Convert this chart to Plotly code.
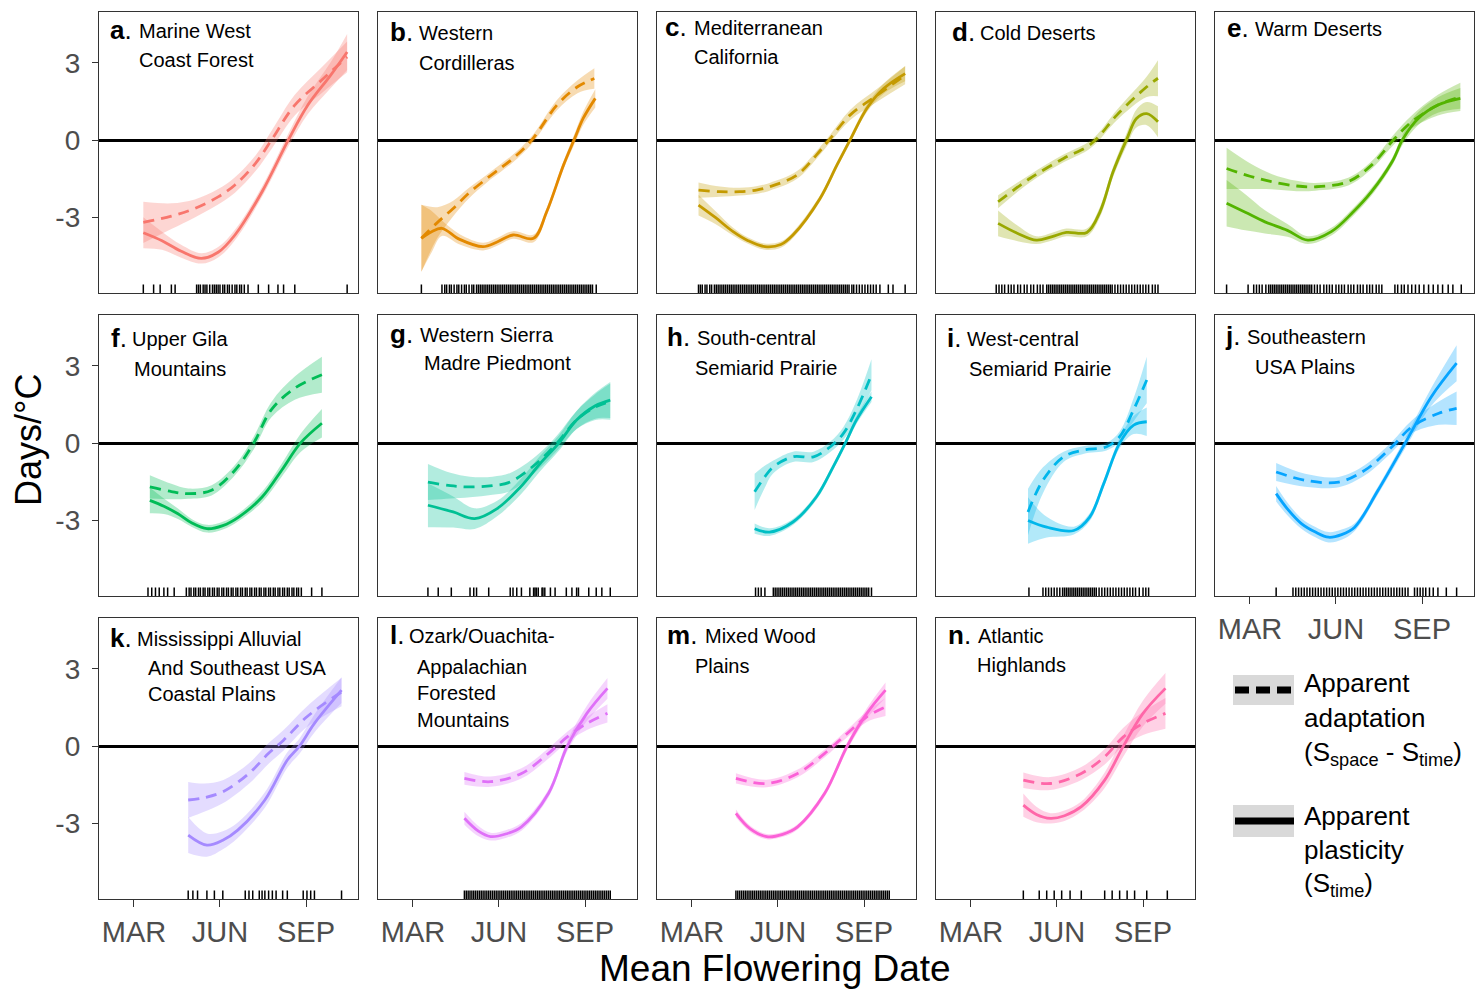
import plotly.graph_objects as go

# ---------------- data (x = day of year of mean flowering date, y = days/°C) ----------------
LETTERS = ["a", "b", "c", "d", "e", "f", "g", "h", "i", "j", "k", "l", "m", "n"]
TITLES = [
    ["Marine West", "Coast Forest"],
    ["Western", "Cordilleras"],
    ["Mediterranean", "California"],
    ["Cold Deserts"],
    ["Warm Deserts"],
    ["Upper Gila", "Mountains"],
    ["Western Sierra", "Madre Piedmont"],
    ["South-central", "Semiarid Prairie"],
    ["West-central", "Semiarid Prairie"],
    ["Southeastern", "USA Plains"],
    ["Mississippi Alluvial", "And Southeast USA", "Coastal Plains"],
    ["Ozark/Ouachita-", "Appalachian", "Forested", "Mountains"],
    ["Mixed Wood", "Plains"],
    ["Atlantic", "Highlands"],
]
COLORS = ["#F8766D", "#E38900", "#C49A00", "#99A800", "#53B400", "#00BC56", "#00C094",
          "#00BFC4", "#00B6EB", "#06A4FF", "#A58AFF", "#DF70F8", "#FB61D7", "#FF66A8"]

MONTH_TICKS = [60, 152, 244]
MONTH_LABELS = ["MAR", "JUN", "SEP"]
Y_TICKS = [-3, 0, 3]

# a. Marine West Coast Forest
A_PL_X = [70, 90, 110, 132, 150, 168, 197, 225, 246, 270, 288]
A_PL_Y = [-3.59, -3.9, -4.3, -4.59, -4.35, -3.68, -2.0, 0.0, 1.36, 2.5, 3.42]
A_PL_SE = [0.6, 0.35, 0.25, 0.2, 0.2, 0.2, 0.2, 0.25, 0.35, 0.5, 0.7]
A_AD_X = [70, 100, 125, 150, 168, 190, 207, 232, 260, 288]
A_AD_Y = [-3.19, -2.95, -2.65, -2.2, -1.74, -0.9, 0.0, 1.36, 2.3, 3.23]
A_AD_SE = [0.8, 0.5, 0.35, 0.3, 0.3, 0.3, 0.35, 0.4, 0.5, 0.6]
A_RUG = [70, 81, 88, 100, 104, 127, 129, 131, 134, 136, 138, 141, 144, 146, 148, 150, 152, 155,
         157, 160, 162, 165, 168, 170, 173, 175, 178, 182, 193, 204, 214, 220, 232, 288]

# b. Western Cordilleras
B_PL_X = [69, 80, 91, 110, 135, 150, 167, 189, 203, 221, 233, 242, 255]
B_PL_Y = [-3.81, -3.55, -3.42, -3.85, -4.13, -3.95, -3.68, -3.81, -2.78, -0.97, 0.07, 0.84, 1.62]
B_PL_SE = [1.3, 0.8, 0.3, 0.2, 0.15, 0.15, 0.15, 0.15, 0.15, 0.15, 0.2, 0.25, 0.35]
B_AD_X = [69, 86, 103, 120, 139, 155, 167, 187, 214, 236, 254]
B_AD_Y = [-3.81, -3.2, -2.65, -2.05, -1.49, -1.05, -0.71, 0.0, 1.36, 2.07, 2.39]
B_AD_SE = [1.3, 0.6, 0.3, 0.2, 0.15, 0.15, 0.15, 0.15, 0.2, 0.25, 0.4]
B_RUG = [69, 91, 94, 96, 99, 101, 104, 107, 109, 112, 115, 117, 120, 123, 125, 128, 130, 132, 134,
         136, 138, 140, 142, 144, 146, 148, 150, 152, 154, 156, 158, 160, 162, 164, 166, 168, 170,
         172, 174, 176, 178, 180, 182, 184, 186, 188, 190, 192, 194, 196, 198, 200, 202, 204, 206,
         208, 210, 212, 214, 216, 218, 220, 222, 224, 226, 228, 230, 232, 234, 236, 238, 240, 242,
         244, 246, 248, 250, 252, 256]

# c. Mediterranean California
C_PL_X = [67, 85, 104, 120, 138, 155, 168, 197, 215, 229, 247, 265, 288]
C_PL_Y = [-2.52, -3.0, -3.55, -3.9, -4.13, -4.05, -3.68, -2.26, -0.97, 0.0, 1.23, 2.0, 2.58]
C_PL_SE = [0.4, 0.25, 0.15, 0.12, 0.12, 0.12, 0.12, 0.12, 0.12, 0.12, 0.15, 0.2, 0.3]
C_AD_X = [67, 90, 111, 130, 143, 172, 193, 208, 229, 258, 288]
C_AD_Y = [-1.94, -2.0, -2.0, -1.93, -1.81, -1.36, -0.58, 0.07, 0.97, 1.74, 2.52]
C_AD_SE = [0.3, 0.2, 0.15, 0.15, 0.15, 0.15, 0.15, 0.15, 0.2, 0.25, 0.35]
C_RUG = [67, 69, 71, 74, 76, 79, 81, 84, 86, 88, 90, 92, 94, 96, 98, 100, 102, 104, 106, 108, 110,
         112, 114, 116, 118, 120, 122, 124, 126, 128, 130, 132, 134, 136, 138, 140, 142, 144, 146,
         148, 150, 152, 154, 156, 158, 160, 162, 164, 166, 168, 170, 172, 174, 176, 178, 180, 182,
         184, 186, 188, 190, 192, 194, 196, 198, 200, 202, 204, 206, 208, 210, 212, 214, 216, 218,
         220, 222, 224, 226, 228, 231, 233, 236, 239, 242, 245, 248, 251, 254, 257, 261, 270, 275, 288]

# d. Cold Deserts
D_PL_X = [89, 110, 130, 146, 162, 184, 198, 212, 227, 237, 248, 260]
D_PL_Y = [-3.23, -3.62, -3.88, -3.75, -3.58, -3.58, -2.78, -1.23, 0.07, 0.84, 1.03, 0.71]
D_PL_SE = [0.5, 0.3, 0.15, 0.15, 0.15, 0.15, 0.2, 0.2, 0.25, 0.35, 0.45, 0.6]
D_AD_X = [89, 123, 159, 184, 195, 216, 248, 260]
D_AD_Y = [-2.39, -1.49, -0.71, -0.26, 0.07, 0.97, 2.07, 2.4]
D_AD_SE = [0.25, 0.15, 0.15, 0.15, 0.15, 0.2, 0.4, 0.7]
D_RUG = [87, 90, 93, 96, 100, 103, 106, 110, 113, 117, 120, 124, 127, 131, 134, 137, 141, 143, 145,
         147, 149, 151, 153, 155, 157, 159, 161, 163, 165, 167, 169, 171, 173, 175, 177, 179, 181,
         183, 185, 187, 189, 191, 193, 195, 197, 199, 201, 203, 205, 207, 209, 211, 214, 217, 220,
         223, 226, 229, 232, 235, 238, 241, 244, 247, 250, 254, 257, 260]

# e. Warm Deserts
E_PL_X = [35, 55, 76, 100, 122, 147, 170, 190, 212, 224, 240, 261, 285]
E_PL_Y = [-2.45, -2.8, -3.17, -3.5, -3.88, -3.55, -2.8, -2.0, -0.84, 0.07, 0.84, 1.36, 1.62]
E_PL_SE = [0.9, 0.7, 0.45, 0.25, 0.15, 0.15, 0.15, 0.15, 0.15, 0.2, 0.25, 0.3, 0.4]
E_AD_X = [35, 60, 83, 110, 130, 165, 190, 215, 233, 261, 285]
E_AD_Y = [-1.1, -1.4, -1.61, -1.78, -1.81, -1.61, -0.97, 0.07, 0.71, 1.36, 1.68]
E_AD_SE = [0.8, 0.5, 0.3, 0.2, 0.15, 0.15, 0.15, 0.2, 0.25, 0.4, 0.55]
E_RUG = [35, 58, 64, 67, 70, 73, 77, 80, 82, 84, 86, 88, 90, 92, 94, 96, 98, 100, 102, 104, 106,
         108, 110, 112, 114, 116, 118, 120, 122, 124, 126, 129, 132, 135, 139, 142, 145, 148, 152,
         155, 158, 161, 165, 168, 171, 175, 178, 181, 185, 188, 191, 195, 198, 201, 215, 218, 222,
         225, 229, 233, 237, 241, 246, 251, 256, 261, 266, 272, 277, 286]

# f. Upper Gila Mountains
F_PL_X = [77, 92, 107, 122, 138, 155, 172, 197, 218, 238, 261]
F_PL_Y = [-2.22, -2.45, -2.74, -3.1, -3.32, -3.2, -2.87, -2.09, -1.05, 0.0, 0.77]
F_PL_SE = [0.5, 0.3, 0.2, 0.15, 0.15, 0.15, 0.15, 0.2, 0.25, 0.35, 0.55]
F_AD_X = [77, 100, 118, 143, 168, 188, 207, 232, 261]
F_AD_Y = [-1.7, -1.88, -1.96, -1.83, -1.05, 0.0, 1.3, 2.13, 2.65]
F_AD_SE = [0.45, 0.3, 0.2, 0.2, 0.2, 0.25, 0.3, 0.45, 0.7]
F_RUG = [75, 79, 83, 87, 92, 96, 103, 116, 119, 121, 124, 126, 129, 131, 134, 136, 139, 141, 144,
         146, 149, 151, 154, 156, 159, 161, 164, 166, 169, 171, 174, 176, 179, 181, 184, 186, 189,
         191, 194, 196, 199, 201, 204, 206, 209, 211, 214, 216, 219, 221, 224, 226, 229, 231, 234,
         236, 239, 250, 261]

# g. Western Sierra Madre Piedmont
G_PL_X = [76, 103, 126, 150, 175, 196, 216, 235, 255, 271]
G_PL_Y = [-2.41, -2.67, -2.93, -2.54, -1.7, -0.79, 0.0, 0.9, 1.45, 1.67]
G_PL_SE = [0.85, 0.6, 0.4, 0.3, 0.3, 0.3, 0.3, 0.35, 0.5, 0.7]
G_AD_X = [76, 100, 121, 145, 164, 192, 214, 235, 255, 271]
G_AD_Y = [-1.51, -1.65, -1.7, -1.65, -1.51, -0.79, 0.0, 0.9, 1.4, 1.61]
G_AD_SE = [0.7, 0.5, 0.4, 0.35, 0.35, 0.3, 0.3, 0.35, 0.5, 0.7]
G_RUG = [76, 87, 101, 121, 125, 128, 141, 164, 167, 171, 176, 185, 189, 190.5, 192, 194, 198, 199,
         201, 207, 212, 224, 230, 235, 237, 248, 256, 262, 271]

# h. South-central Semiarid Prairie
H_PL_X = [127, 143, 168, 193, 211, 224, 236, 252]
H_PL_Y = [-3.32, -3.45, -3.06, -2.09, -0.92, 0.0, 0.9, 1.8]
H_PL_SE = [0.2, 0.15, 0.12, 0.12, 0.12, 0.12, 0.15, 0.2]
H_AD_X = [127, 137, 147, 168, 190, 208, 222, 236, 252]
H_AD_Y = [-1.89, -1.35, -0.92, -0.53, -0.53, -0.14, 0.38, 1.3, 2.65]
H_AD_SE = [0.7, 0.45, 0.25, 0.2, 0.2, 0.2, 0.25, 0.35, 0.6]
H_RUG = [128, 131, 134, 138, 147, 149, 151, 153, 155, 157, 159, 161, 163, 165, 167, 169, 171, 173,
         175, 177, 179, 181, 183, 185, 187, 189, 191, 193, 195, 197, 199, 201, 203, 205, 207, 209,
         211, 213, 215, 217, 219, 221, 223, 225, 227, 229, 231, 233, 235, 237, 239, 241, 243, 245,
         247, 249, 252]

# i. West-central Semiarid Prairie
I_PL_X = [121, 141, 170, 187, 202, 219, 234, 248]
I_PL_Y = [-3.0, -3.26, -3.39, -2.87, -1.57, 0.0, 0.7, 0.83]
I_PL_SE = [0.9, 0.4, 0.15, 0.15, 0.15, 0.2, 0.35, 0.55]
I_AD_X = [121, 137, 159, 180, 205, 219, 234, 248]
I_AD_Y = [-2.67, -1.44, -0.53, -0.27, -0.14, 0.25, 1.3, 2.45]
I_AD_SE = [0.9, 0.5, 0.2, 0.15, 0.15, 0.2, 0.45, 0.9]
I_RUG = [122, 137, 140, 143, 146, 149, 152, 155, 158, 160, 162, 164, 166, 168, 170, 172, 174, 176,
         178, 180, 182, 184, 186, 188, 190, 192, 194, 197, 200, 203, 206, 209, 212, 215, 218, 221,
         224, 227, 230, 233, 236, 240, 244, 247, 250]

# j. Southeastern USA Plains
J_PL_X = [88, 100, 115, 130, 144, 158, 172, 197, 226, 254, 281]
J_PL_Y = [-1.96, -2.55, -3.12, -3.45, -3.65, -3.55, -3.26, -1.83, 0.0, 1.8, 3.1]
J_PL_SE = [0.3, 0.25, 0.2, 0.2, 0.2, 0.2, 0.15, 0.15, 0.2, 0.35, 0.7]
J_AD_X = [88, 119, 155, 183, 212, 233, 262, 281]
J_AD_Y = [-1.12, -1.44, -1.51, -1.05, -0.14, 0.63, 1.16, 1.35]
J_AD_SE = [0.35, 0.25, 0.2, 0.2, 0.2, 0.25, 0.45, 0.65]
J_RUG = [88, 106, 109, 112, 115, 118, 121, 124, 127, 130, 133, 136, 139, 142, 145, 148, 151, 154,
         157, 160, 163, 166, 169, 172, 175, 178, 181, 184, 187, 190, 193, 196, 199, 202, 205, 208,
         211, 214, 217, 220, 223, 226, 229, 236, 239, 242, 245, 248, 252, 256, 261, 270, 281]

# k. Mississippi Alluvial And Southeast USA Coastal Plains
K_PL_X = [118, 138, 155, 171, 200, 224, 237, 253, 282]
K_PL_Y = [-3.45, -3.84, -3.65, -3.26, -2.09, -0.54, 0.0, 0.88, 2.17]
K_PL_SE = [0.7, 0.45, 0.35, 0.3, 0.3, 0.3, 0.3, 0.35, 0.5]
K_AD_X = [118, 135, 155, 183, 204, 220, 245, 282]
K_AD_Y = [-2.09, -2.0, -1.77, -1.06, -0.28, 0.23, 1.14, 2.1]
K_AD_SE = [0.7, 0.55, 0.45, 0.4, 0.4, 0.4, 0.4, 0.55]
K_RUG = [118, 123, 128, 138, 146, 155, 179, 183, 187, 194, 197, 200, 204, 208, 212, 219, 224, 241,
         245, 249, 253, 282]

# l. Ozark/Ouachita-Appalachian Forested Mountains
L_PL_X = [115, 130, 143, 160, 176, 205, 225, 246, 268]
L_PL_Y = [-2.8, -3.3, -3.51, -3.4, -3.13, -1.83, 0.0, 1.27, 2.24]
L_PL_SE = [0.25, 0.2, 0.15, 0.15, 0.15, 0.15, 0.2, 0.3, 0.4]
L_AD_X = [115, 143, 176, 205, 225, 246, 268]
L_AD_Y = [-1.25, -1.38, -1.06, -0.28, 0.36, 0.88, 1.27]
L_AD_SE = [0.25, 0.2, 0.2, 0.2, 0.2, 0.25, 0.35]
L_RUG = [115, 117, 119, 121, 123, 125, 127, 129, 131, 133, 135, 137, 139, 141, 143, 145, 147, 149,
         151, 153, 155, 157, 159, 161, 163, 165, 167, 169, 171, 173, 175, 177, 179, 181, 183, 185,
         187, 189, 191, 193, 195, 197, 199, 201, 203, 205, 207, 209, 211, 213, 215, 217, 219, 221,
         223, 225, 227, 229, 231, 233, 235, 237, 239, 241, 243, 245, 247, 249, 251, 253, 255, 257,
         259, 261, 263, 265, 267, 269, 271]

# m. Mixed Wood Plains
M_PL_X = [107, 122, 140, 157, 173, 202, 226, 247, 267]
M_PL_Y = [-2.61, -3.2, -3.51, -3.42, -3.13, -1.83, 0.0, 1.27, 2.17]
M_PL_SE = [0.15, 0.12, 0.1, 0.1, 0.1, 0.12, 0.15, 0.2, 0.3]
M_AD_X = [107, 140, 173, 202, 226, 247, 267]
M_AD_Y = [-1.25, -1.45, -1.06, -0.28, 0.49, 1.14, 1.52]
M_AD_SE = [0.2, 0.15, 0.15, 0.15, 0.15, 0.2, 0.35]
M_RUG = [107, 109, 111, 113, 115, 117, 119, 121, 123, 125, 127, 129, 131, 133, 135, 137, 139, 141,
         143, 145, 147, 149, 151, 153, 155, 157, 159, 161, 163, 165, 167, 169, 171, 173, 175, 177,
         179, 181, 183, 185, 187, 189, 191, 193, 195, 197, 199, 201, 203, 205, 207, 209, 211, 213,
         215, 217, 219, 221, 223, 225, 227, 229, 231, 233, 235, 237, 239, 241, 243, 245, 247, 249,
         251, 253, 255, 257, 259, 261, 263, 265, 267, 269, 271]

# n. Atlantic Highlands
N_PL_X = [116, 130, 145, 160, 178, 203, 223, 244, 268]
N_PL_Y = [-2.29, -2.65, -2.8, -2.7, -2.35, -1.32, 0.0, 1.27, 2.24]
N_PL_SE = [0.45, 0.3, 0.2, 0.2, 0.2, 0.3, 0.4, 0.5, 0.6]
N_AD_X = [116, 145, 178, 203, 223, 244, 268]
N_AD_Y = [-1.32, -1.45, -1.06, -0.41, 0.36, 0.88, 1.27]
N_AD_SE = [0.3, 0.25, 0.25, 0.3, 0.35, 0.45, 0.6]
N_RUG = [116, 133, 141, 149, 157, 166, 178, 203, 211, 219, 227, 235, 248, 270]

PL_X = [A_PL_X, B_PL_X, C_PL_X, D_PL_X, E_PL_X, F_PL_X, G_PL_X, H_PL_X, I_PL_X, J_PL_X, K_PL_X, L_PL_X, M_PL_X, N_PL_X]
PL_Y = [A_PL_Y, B_PL_Y, C_PL_Y, D_PL_Y, E_PL_Y, F_PL_Y, G_PL_Y, H_PL_Y, I_PL_Y, J_PL_Y, K_PL_Y, L_PL_Y, M_PL_Y, N_PL_Y]
PL_SE = [A_PL_SE, B_PL_SE, C_PL_SE, D_PL_SE, E_PL_SE, F_PL_SE, G_PL_SE, H_PL_SE, I_PL_SE, J_PL_SE, K_PL_SE, L_PL_SE, M_PL_SE, N_PL_SE]
AD_X = [A_AD_X, B_AD_X, C_AD_X, D_AD_X, E_AD_X, F_AD_X, G_AD_X, H_AD_X, I_AD_X, J_AD_X, K_AD_X, L_AD_X, M_AD_X, N_AD_X]
AD_Y = [A_AD_Y, B_AD_Y, C_AD_Y, D_AD_Y, E_AD_Y, F_AD_Y, G_AD_Y, H_AD_Y, I_AD_Y, J_AD_Y, K_AD_Y, L_AD_Y, M_AD_Y, N_AD_Y]
AD_SE = [A_AD_SE, B_AD_SE, C_AD_SE, D_AD_SE, E_AD_SE, F_AD_SE, G_AD_SE, H_AD_SE, I_AD_SE, J_AD_SE, K_AD_SE, L_AD_SE, M_AD_SE, N_AD_SE]
RUGS = [A_RUG, B_RUG, C_RUG, D_RUG, E_RUG, F_RUG, G_RUG, H_RUG, I_RUG, J_RUG, K_RUG, L_RUG, M_RUG, N_RUG]

# ---------------- layout geometry (page pixels) ----------------
OX, OY = 0, 0           # body margin removed by post_script
FW, FH = 1484, 989
COL_L = [99, 378, 657, 936, 1215]
ROW_T = [12, 315, 618]
PW, PH = 259, 281
X_RANGE = [22.6, 299.6]
Y_RANGE = [-5.93, 4.97]
RUG_Y = -5.79
FONT = "Liberation Sans, Arial, Helvetica, sans-serif"

# title text placement: (letter dx, [(line dx, line dy), ...]) relative to panel top-left
TITLE_POS = [
    (9, [(38, 19), (38, 48)]),
    (10, [(39, 21), (39, 51)]),
    (6, [(35, 16), (35, 45)]),
    (14, [(42, 21)]),
    (10, [(38, 17)]),
    (10, [(31, 24), (33, 54)]),
    (10, [(40, 20), (44, 48)]),
    (8, [(38, 23), (36, 53)]),
    (9, [(29, 24), (31, 54)]),
    (8, [(30, 22), (38, 52)]),
    (9, [(36, 21), (47, 50), (47, 76)]),
    (10, [(29, 18), (37, 49), (37, 75), (37, 102)]),
    (8, [(46, 18), (36, 48)]),
    (10, [(40, 18), (39, 47)]),
]


def xp(px):
    return (px - OX) / FW


def yp(py):
    return 1 - (py - OY) / FH


def rgba(hx, a):
    hx = hx.lstrip("#")
    r, g, b = int(hx[0:2], 16), int(hx[2:4], 16), int(hx[4:6], 16)
    return f"rgba({r},{g},{b},{a})"


fig = go.Figure()
layout = {}
annotations = []
shapes = []

for i in range(14):
    r, c = divmod(i, 5)
    k = "" if i == 0 else str(i + 1)
    xa, ya = "x" + k, "y" + k
    L, T = COL_L[c], ROW_T[r]
    col = COLORS[i]
    show_x = (r == 2) or (i == 9)
    show_y = (c == 0)
    layout["xaxis" + k] = dict(
        domain=[xp(L), xp(L + PW)], range=X_RANGE, anchor=ya,
        showgrid=False, zeroline=False, showline=True, mirror=True,
        linecolor="#333333", linewidth=1.3,
        tickmode="array", tickvals=MONTH_TICKS, ticktext=MONTH_LABELS,
        showticklabels=show_x, ticks="outside" if show_x else "",
        ticklen=7, tickwidth=1.3, tickcolor="#333333",
        tickfont=dict(family=FONT, size=29, color="#4d4d4d"),
    )
    layout["yaxis" + k] = dict(
        domain=[yp(T + PH), yp(T)], range=Y_RANGE, anchor=xa,
        showgrid=False, zeroline=True, zerolinecolor="black", zerolinewidth=2.8,
        showline=True, mirror=True, linecolor="#333333", linewidth=1.3,
        tickmode="array", tickvals=Y_TICKS, ticktext=["-3", "0", "3"],
        showticklabels=show_y, ticks="outside" if show_y else "",
        ticklen=6, tickwidth=1.3, tickcolor="#333333", ticklabelstandoff=6,
        tickfont=dict(family=FONT, size=28, color="#4d4d4d"),
    )

    # ribbons
    for xs, ys, se in ((PL_X[i], PL_Y[i], PL_SE[i]), (AD_X[i], AD_Y[i], AD_SE[i])):
        up = [y + s for y, s in zip(ys, se)]
        lo = [y - s for y, s in zip(ys, se)]
        fig.add_trace(go.Scatter(x=xs, y=up, mode="lines", line=dict(width=0, shape="spline"),
                                 xaxis=xa, yaxis=ya, showlegend=False, hoverinfo="skip"))
        fig.add_trace(go.Scatter(x=xs, y=lo, mode="lines", line=dict(width=0, shape="spline"),
                                 fill="tonexty", fillcolor=rgba(col, 0.3),
                                 xaxis=xa, yaxis=ya, showlegend=False, hoverinfo="skip"))
    # apparent adaptation (dashed)
    fig.add_trace(go.Scatter(x=AD_X[i], y=AD_Y[i], mode="lines",
                             line=dict(color=col, width=2.8, dash="11px,7px", shape="spline"),
                             xaxis=xa, yaxis=ya, showlegend=False))
    # apparent plasticity (solid)
    fig.add_trace(go.Scatter(x=PL_X[i], y=PL_Y[i], mode="lines",
                             line=dict(color=col, width=2.8, shape="spline"),
                             xaxis=xa, yaxis=ya, showlegend=False))
    # rug
    fig.add_trace(go.Scatter(x=RUGS[i], y=[RUG_Y] * len(RUGS[i]), mode="markers",
                             marker=dict(symbol="line-ns", size=7,
                                         line=dict(width=1.5, color="black")),
                             xaxis=xa, yaxis=ya, showlegend=False, hoverinfo="skip"))

    # panel titles
    ldx, lines = TITLE_POS[i]
    annotations.append(dict(x=xp(L + ldx), y=yp(T + lines[0][1] - 1), xref="paper", yref="paper",
                            text=f"<b>{LETTERS[i]}</b>.", showarrow=False, xanchor="left",
                            yanchor="middle", font=dict(family=FONT, size=26, color="black")))
    for txt, (dx, dy) in zip(TITLES[i], lines):
        annotations.append(dict(x=xp(L + dx), y=yp(T + dy), xref="paper", yref="paper",
                                text=txt, showarrow=False, xanchor="left", yanchor="middle",
                                font=dict(family=FONT, size=20, color="black")))

# axis titles
annotations.append(dict(x=xp(28), y=yp(440), xref="paper", yref="paper", text="Days/°C",
                        showarrow=False, textangle=-90, xanchor="center", yanchor="middle",
                        font=dict(family=FONT, size=36, color="black")))
annotations.append(dict(x=xp(775), y=yp(968), xref="paper", yref="paper", text="Mean Flowering Date",
                        showarrow=False, xanchor="center", yanchor="middle",
                        font=dict(family=FONT, size=37, color="black")))

# legend (drawn manually)
LEG_KEYS = [("dash", 675, 705, ["Apparent", "adaptation", "(S<sub>space</sub> - S<sub>time</sub>)"], [683, 718, 753]),
            ("solid", 805, 837, ["Apparent", "plasticity", "(S<sub>time</sub>)"], [816, 850, 884])]
for dash, y0, y1, texts, ys in LEG_KEYS:
    shapes.append(dict(type="rect", xref="paper", yref="paper", x0=xp(1233), x1=xp(1294),
                       y0=yp(y1), y1=yp(y0), fillcolor="#d9d9d9", line=dict(width=0), layer="below"))
    shapes.append(dict(type="line", xref="paper", yref="paper", x0=xp(1235), x1=xp(1294),
                       y0=yp((y0 + y1) / 2), y1=yp((y0 + y1) / 2),
                       line=dict(color="black", width=7, dash="14px,7px" if dash == "dash" else "solid")))
    for t, yy in zip(texts, ys):
        annotations.append(dict(x=xp(1302), y=yp(yy), xref="paper", yref="paper", text=t,
                                showarrow=False, xanchor="left", yanchor="middle",
                                font=dict(family=FONT, size=26, color="black")))

fig.update_layout(
    width=FW, height=FH, autosize=False,
    margin=dict(l=0, r=0, t=0, b=0),
    paper_bgcolor="white", plot_bgcolor="white",
    annotations=annotations, shapes=shapes, showlegend=False,
    **layout,
)

fig.write_html("out.html", config={"displayModeBar": False},
               post_script="document.body.style.margin='0';document.body.style.overflow='hidden';")
